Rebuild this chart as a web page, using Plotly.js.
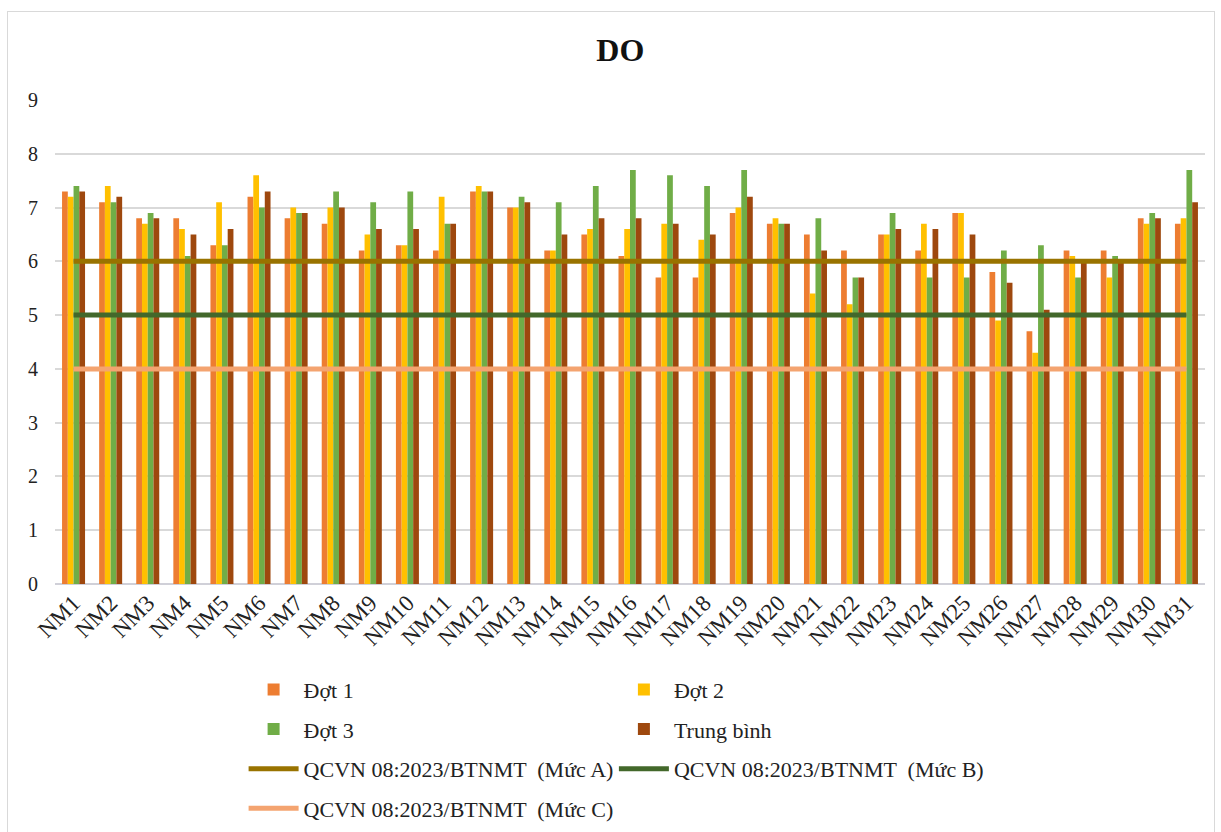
<!DOCTYPE html>
<html>
<head>
<meta charset="utf-8">
<script src="https://cdn.plot.ly/plotly-3.0.1.min.js"></script>
<style>
    body { margin: 0; background: #ffffff; }
    #chart { width: 1221px; height: 832px; }
    #frame {
        position: absolute; left: 7px; top: 11px; width: 1206px; height: 830px;
        border: 1px solid #d9d9d9; pointer-events: none;
    }
</style>
</head>
<body>
<div id="chart"></div>
<div id="frame"></div>
<script>
// Sampling points
const stations = ['NM1', 'NM2', 'NM3', 'NM4', 'NM5', 'NM6', 'NM7', 'NM8', 'NM9', 'NM10',
    'NM11', 'NM12', 'NM13', 'NM14', 'NM15', 'NM16', 'NM17', 'NM18', 'NM19', 'NM20',
    'NM21', 'NM22', 'NM23', 'NM24', 'NM25', 'NM26', 'NM27', 'NM28', 'NM29', 'NM30', 'NM31'];

// DO values (mg/l) per sampling round
const dot1 = [7.3, 7.1, 6.8, 6.8, 6.3, 7.2, 6.8, 6.7, 6.2, 6.3,
    6.2, 7.3, 7.0, 6.2, 6.5, 6.1, 5.7, 5.7, 6.9, 6.7,
    6.5, 6.2, 6.5, 6.2, 6.9, 5.8, 4.7, 6.2, 6.2, 6.8, 6.7];
const dot2 = [7.2, 7.4, 6.7, 6.6, 7.1, 7.6, 7.0, 7.0, 6.5, 6.3,
    7.2, 7.4, 7.0, 6.2, 6.6, 6.6, 6.7, 6.4, 7.0, 6.8,
    5.4, 5.2, 6.5, 6.7, 6.9, 4.9, 4.3, 6.1, 5.7, 6.7, 6.8];
const dot3 = [7.4, 7.1, 6.9, 6.1, 6.3, 7.0, 6.9, 7.3, 7.1, 7.3,
    6.7, 7.3, 7.2, 7.1, 7.4, 7.7, 7.6, 7.4, 7.7, 6.7,
    6.8, 5.7, 6.9, 5.7, 5.7, 6.2, 6.3, 5.7, 6.1, 6.9, 7.7];
const trungBinh = [7.3, 7.2, 6.8, 6.5, 6.6, 7.3, 6.9, 7.0, 6.6, 6.6,
    6.7, 7.3, 7.1, 6.5, 6.8, 6.8, 6.7, 6.5, 7.2, 6.7,
    6.2, 5.7, 6.6, 6.6, 6.5, 5.6, 5.1, 6.0, 6.0, 6.8, 7.1];

// QCVN 08:2023/BTNMT limits
const limitA = 6;
const limitB = 5;
const limitC = 4;

const FONT = 'Liberation Serif, Times New Roman, serif';

function barTrace(name, values, color, legend) {
    return {
        type: 'bar',
        name: name,
        x: stations,
        y: values,
        marker: { color: color },
        legend: legend,
        legendgroup: name,
        hoverinfo: 'x+y+name'
    };
}

function limitTrace(name, value, color, legend) {
    return {
        type: 'scatter',
        mode: 'lines',
        name: name,
        x: stations,
        y: stations.map(() => value),
        line: { color: color, width: 5 },
        legend: legend,
        legendgroup: name
    };
}

const traces = [
    barTrace('Đợt 1', dot1, '#ED7D31', 'legend'),
    barTrace('Đợt 2', dot2, '#FFC000', 'legend2'),
    barTrace('Đợt 3', dot3, '#70AD47', 'legend'),
    barTrace('Trung bình', trungBinh, '#9E480E', 'legend2'),
    limitTrace('QCVN 08:2023/BTNMT  (Mức A)', limitA, '#997300', 'legend'),
    limitTrace('QCVN 08:2023/BTNMT  (Mức B)', limitB, '#43682B', 'legend2'),
    limitTrace('QCVN 08:2023/BTNMT  (Mức C)', limitC, '#F4A470', 'legend')
];

const legendStyle = {
    orientation: 'v',
    yanchor: 'top',
    y: -0.175,
    xanchor: 'left',
    bgcolor: 'rgba(0,0,0,0)',
    font: { family: FONT, size: 22, color: '#222222' },
    tracegroupgap: 8,
    itemwidth: 50
};

const layout = {
    width: 1221,
    height: 832,
    title: {
        text: '<b>DO</b>',
        font: { family: FONT, size: 32, color: '#111111' },
        x: 0.508,
        xanchor: 'center',
        y: 0.94,
        yanchor: 'middle'
    },
    barmode: 'group',
    bargap: 0.38,
    bargroupgap: 0,
    xaxis: {
        type: 'category',
        tickangle: -45,
        tickfont: { family: FONT, size: 23, color: '#222222' },
        showgrid: false,
        showline: false,
        ticks: ''
    },
    yaxis: {
        range: [0, 9],
        dtick: 1,
        showgrid: true,
        gridcolor: '#d9d9d9',
        gridwidth: 1.5,
        zeroline: true,
        zerolinecolor: '#d0d0d8',
        zerolinewidth: 1.5,
        tickfont: { family: FONT, size: 20, color: '#222222' },
        ticklabelstandoff: 16,
        fixedrange: true
    },
    legend: Object.assign({}, legendStyle, { x: 0.164 }),
    legend2: Object.assign({}, legendStyle, { x: 0.486 }),
    plot_bgcolor: '#ffffff',
    paper_bgcolor: '#ffffff',
    font: { family: FONT, size: 20 },
    margin: { t: 100, b: 248, l: 55, r: 16, autoexpand: false },
    showlegend: true
};

const config = {
    responsive: false,
    displayModeBar: false
};

Plotly.newPlot('chart', traces, layout, config);
</script>
</body>
</html>
